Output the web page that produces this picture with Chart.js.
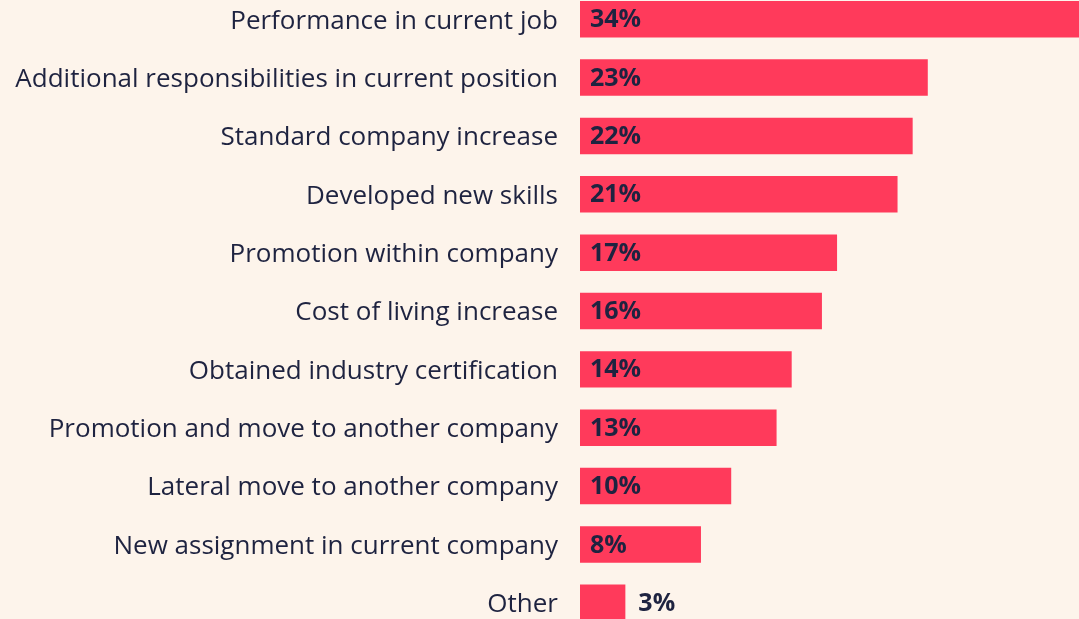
<!DOCTYPE html>
<html>
<head>
<meta charset="utf-8">
<script src="https://cdn.jsdelivr.net/npm/chart.js@4.4.1/dist/chart.umd.min.js"></script>
<style>
  html, body { margin: 0; padding: 0; background: #FDF4EB; overflow: hidden; }
  #raise-chart { position: absolute; left: 0; top: -10px; }
</style>
</head>
<body>
<canvas id="raise-chart" width="1079" height="642"></canvas>
<script>
// reasons for the last raise, share of respondents (%)
const reasons = [
  'Performance in current job',
  'Additional responsibilities in current position',
  'Standard company increase',
  'Developed new skills',
  'Promotion within company',
  'Cost of living increase',
  'Obtained industry certification',
  'Promotion and move to another company',
  'Lateral move to another company',
  'New assignment in current company',
  'Other'
];
const shares = [34, 23, 22, 21, 17, 16, 14, 13, 10, 8, 3];

const BAR_COLOR = '#FF3A5B';
const TEXT_COLOR = '#1E2340';
const FONT = "'Open Sans', 'Noto Sans', sans-serif";

// percentage labels: inside the bar, or just past it when the bar is too short
const valueLabels = {
  id: 'valueLabels',
  afterDatasetsDraw(chart) {
    const { ctx } = chart;
    const meta = chart.getDatasetMeta(0);
    ctx.save();
    ctx.font = `bold 25px ${FONT}`;
    ctx.fillStyle = TEXT_COLOR;
    ctx.textBaseline = 'middle';
    ctx.textAlign = 'left';
    meta.data.forEach((bar, i) => {
      const text = shares[i] + '%';
      const w = ctx.measureText(text).width;
      const x = (bar.x - bar.base) > w + 20 ? bar.base + 10 : bar.x + 13;
      ctx.fillText(text, x, bar.y + 1);
    });
    ctx.restore();
  }
};

new Chart(document.getElementById('raise-chart'), {
  type: 'bar',
  data: {
    labels: reasons,
    datasets: [{
      data: shares,
      backgroundColor: BAR_COLOR,
      borderWidth: 0,
      categoryPercentage: 1,
      barPercentage: 0.625
    }]
  },
  options: {
    indexAxis: 'y',
    responsive: false,
    animation: false,
    layout: { padding: 0 },
    plugins: {
      legend: { display: false },
      tooltip: { enabled: false }
    },
    scales: {
      x: {
        display: false,
        min: 0,
        max: 33
      },
      y: {
        grid: { display: false, drawTicks: false },
        border: { display: false },
        ticks: {
          color: TEXT_COLOR,
          padding: 22,
          labelOffset: 2,
          font: { family: FONT, size: 26 }
        },
        afterFit: (scale) => {
          scale.width = 580;
          // categories are offset, so no room is needed for half labels
          scale.paddingTop = 0;
          scale.paddingBottom = 0;
        }
      }
    }
  },
  plugins: [valueLabels]
});
</script>
</body>
</html>
